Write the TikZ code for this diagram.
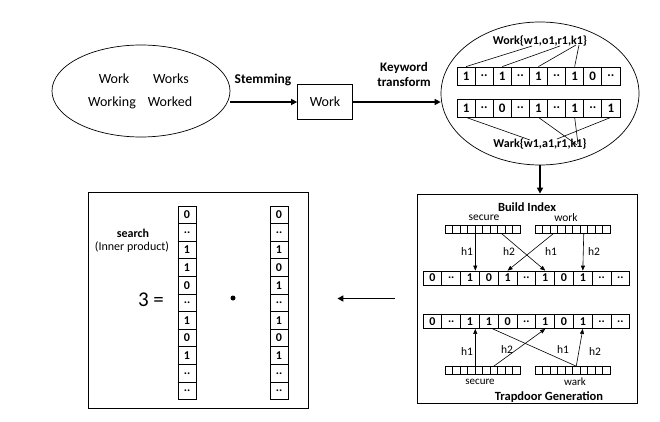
\documentclass[tikz,border=0pt]{standalone}
\usepackage{fontspec}
\setmainfont{Carlito}
\usetikzlibrary{shapes.geometric, arrows.meta, positioning, calc}

\newcommand{\twodots}{..}

\tikzset{
  wordtxt/.style={font=\fontsize{14}{16}\selectfont},
  boldtxt/.style={font=\bfseries\fontsize{12.5}{14}\selectfont},
  hashtxt/.style={font=\fontsize{11.5}{13}\selectfont},
  bitcell/.style={draw, line width=0.8pt, inner sep=0pt, font=\bfseries\fontsize{12}{14}\selectfont},
  hashcell/.style={draw, line width=0.6pt, inner sep=0pt, minimum width=7.5pt, minimum height=8pt},
  flow/.style={-{Triangle[length=6pt,width=6pt]}, line width=1.5pt},
  hasharrow/.style={-{Triangle[length=5pt,width=4pt]}, line width=0.6pt},
  wire/.style={line width=0.6pt},
}

\begin{document}
\begin{tikzpicture}[x=1pt, y=-1pt]
  \useasboundingbox (0,0) rectangle (660,422);

  % word forms and stemming
  \node[draw, ellipse, line width=0.7pt, minimum width=178pt, minimum height=92pt, inner sep=0pt] (forms) at (141,91) {};
  \node[wordtxt, anchor=base] (f-work) at (114,84) {Work};
  \node[wordtxt, anchor=base] (f-works) at (171,84) {Works};
  \node[wordtxt, anchor=base] (f-working) at (112,107) {Working};
  \node[wordtxt, anchor=base] (f-worked) at (170,107) {Worked};

  \node[draw, line width=0.8pt, minimum width=55pt, minimum height=35pt, wordtxt] (stem) at (325,102) {Work};
  \node[boldtxt, font=\bfseries\fontsize{13.5}{15}\selectfont] (stemlbl) at (263,80) {Stemming};
  \draw[flow] (forms.east |- stem.west) -- (stem.west);

  % keyword transform
  \node[draw, ellipse, line width=0.7pt, minimum width=198pt, minimum height=143pt, inner sep=0pt] (kw) at (540,93.5) {};
  \node[align=center, font=\bfseries\fontsize{13}{15}\selectfont] (kwlbl) at (404,74) {Keyword\\transform};
  \draw[flow] (stem.east) -- (stem.east -| kw.west);

  \foreach \v [count=\i from 0] in {1,\twodots,1,\twodots,1,\twodots,1,0,\twodots}
    \node[bitcell, minimum width=18.1pt, minimum height=18pt, font=\bfseries\fontsize{13}{15}\selectfont] (wo-\i) at ({457+18.1*(\i+0.5)},76) {\v};
  \foreach \v [count=\i from 0] in {1,\twodots,0,\twodots,1,\twodots,1,\twodots,1}
    \node[bitcell, minimum width=18.1pt, minimum height=18pt, font=\bfseries\fontsize{13}{15}\selectfont] (wa-\i) at ({457+18.1*(\i+0.5)},108) {\v};

  \coordinate (wo-w) at (532,46);
  \coordinate (wo-o) at (560,46);
  \coordinate (wo-r) at (576,45);
  \coordinate (wo-k) at (579,45);
  \draw[wire] (wo-0.north) -- (wo-w);
  \draw[wire] (wo-2.north) -- (wo-o);
  \draw[wire] (wo-4.north) -- (wo-r);
  \draw[wire] (wo-6.north) -- (wo-k);
  \node[boldtxt, font=\bfseries\fontsize{12}{14}\selectfont] (wolbl) at (540,41) {Work\{w1,o1,r1,k1\}};

  \coordinate (wa-w) at (530,140);
  \coordinate (wa-a) at (557,139);
  \coordinate (wa-r) at (577,145);
  \coordinate (wa-k) at (578,144);
  \draw[wire] (wa-0.south) -- (wa-w);
  \draw[wire] (wa-4.south) -- (wa-r);
  \draw[wire] (wa-6.south) -- (wa-k);
  \draw[wire] (wa-8.south) -- (wa-a);
  \node[boldtxt, font=\bfseries\fontsize{12}{14}\selectfont] (walbl) at (540,144) {Wark\{w1,a1,r1,k1\}};

  % index and trapdoor
  \node[draw, line width=0.8pt, minimum width=220pt, minimum height=209pt] (build) at (527,298.5) {};
  \draw[flow] (kw.south) -- (kw.south |- build.north);

  \node[boldtxt] (bilbl) at (527,207) {Build Index};
  \node[hashtxt] (sec1) at (484,218) {secure};
  \node[hashtxt] (wrk1) at (566,218) {work};
  \foreach \i in {0,...,9} {
    \node[hashcell] (s1-\i) at ({445+7.5*(\i+0.5)},229) {};
    \node[hashcell] (w1-\i) at ({535+7.5*(\i+0.5)},229) {};
    \node[hashcell] (s2-\i) at ({445+7.5*(\i+0.5)},370.5) {};
    \node[hashcell] (w2-\i) at ({535+7.5*(\i+0.5)},370.5) {};
  }
  \foreach \v [count=\i from 0] in {0,\twodots,1,0,1,\twodots,1,0,1,\twodots,\twodots}
    \node[bitcell, minimum width=18.8pt, minimum height=14pt] (ix-\i) at ({423+18.8*(\i+0.5)},278) {\v};
  \foreach \v [count=\i from 0] in {0,\twodots,1,1,0,\twodots,1,0,1,\twodots,\twodots}
    \node[bitcell, minimum width=18.8pt, minimum height=14pt] (td-\i) at ({423+18.8*(\i+0.5)},321.5) {\v};

  \draw[hasharrow] (s1-3.south east) -- (s1-3.south east |- ix-2.north);
  \draw[hasharrow] (s1-7.south) -- (ix-6.north);
  \draw[hasharrow] (w1-2.south) -- (ix-4.north);
  \draw[hasharrow] (w1-6.south) -- (ix-8.north);
  \node[hashtxt] (bh1) at (467,252) {h1};
  \node[hashtxt] (bh2) at (509,252) {h2};
  \node[hashtxt] (bh3) at (551,252) {h1};
  \node[hashtxt] (bh4) at (594,252) {h2};

  \draw[hasharrow] (s2-3.north east) -- (s2-3.north east |- td-2.south);
  \draw[hasharrow] (s2-6.north) -- (td-6.south);
  \draw[wire] (w2-5.north) -- ([xshift=4pt]td-3.south);
  \draw[hasharrow] (w2-5.north) -- (td-8.south);
  \node[hashtxt] (th1) at (467,352) {h1};
  \node[hashtxt] (th2) at (507,350) {h2};
  \node[hashtxt] (th3) at (563,350) {h1};
  \node[hashtxt] (th4) at (595,352) {h2};

  \node[hashtxt, font=\fontsize{11}{13}\selectfont] (sec2) at (480,382) {secure};
  \node[hashtxt, font=\fontsize{11}{13}\selectfont] (wrk2) at (575,382) {wark};
  \node[boldtxt] (tglbl) at (549,397) {Trapdoor Generation};

  % search
  \node[draw, line width=0.8pt, minimum width=220pt, minimum height=216pt] (search) at (198,300) {};
  \coordinate (ret) at ([xshift=-22pt]build.west);
  \draw[flow] (ret) -- ([xshift=29pt]search.east |- ret);

  \node[boldtxt, font=\bfseries\fontsize{12}{14}\selectfont] (srlbl) at (133,233) {search};
  \node[hashtxt, font=\fontsize{12}{14}\selectfont] (iplbl) at (132,247) {(Inner product)};
  \node[font=\fontsize{21}{25}\selectfont] (three) at (151,300) {3 =};
  \node[circle, fill, inner sep=0pt, minimum size=5pt] (dot) at (233,298) {};

  \foreach \v [count=\i from 0] in {0,\twodots,1,1,0,\twodots,1,0,1,\twodots,\twodots}
    \node[bitcell, minimum width=18pt, minimum height=17.6pt] (qa-\i) at (187,{206+17.6*(\i+0.5)}) {\v};
  \foreach \v [count=\i from 0] in {0,\twodots,1,0,1,\twodots,1,0,1,\twodots,\twodots}
    \node[bitcell, minimum width=18pt, minimum height=17.6pt] (qb-\i) at (279,{206+17.6*(\i+0.5)}) {\v};
\end{tikzpicture}
\end{document}
